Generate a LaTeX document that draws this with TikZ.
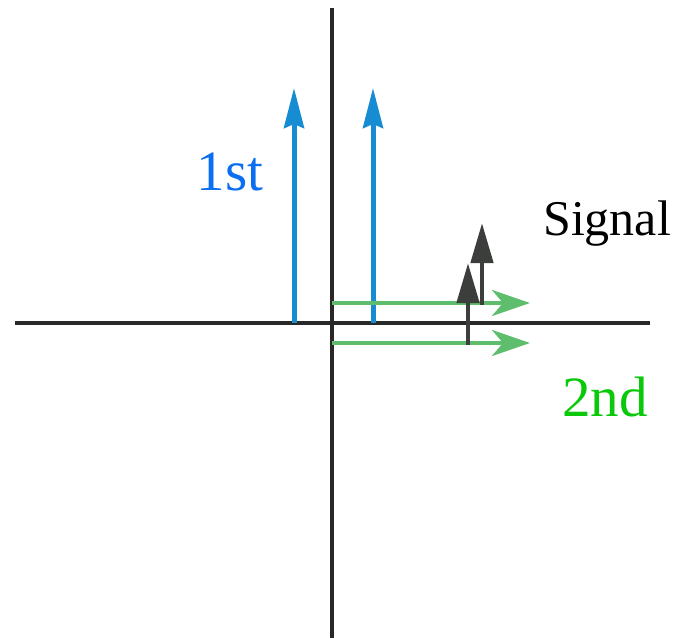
\documentclass[tikz,border=0pt]{standalone}
\usepackage{fontspec}
\setmainfont{Liberation Serif}
\usetikzlibrary{arrows.meta}
\definecolor{axisgray}{RGB}{40,40,40}
\definecolor{firstblue}{RGB}{22,140,210}
\definecolor{firsttext}{RGB}{12,110,240}
\definecolor{secondgreen}{RGB}{95,190,110}
\definecolor{secondtext}{RGB}{10,200,10}
\definecolor{signalgray}{RGB}{60,62,60}
\tikzset{x=1pt, y=-1pt,
    axis/.style={draw=axisgray, line width=3.4pt},
    firstarrow/.style={draw=firstblue, line width=5pt,
        -{Stealth[length=40pt,width=20pt,inset=4pt]}},
    secondarrow/.style={draw=secondgreen, line width=4.6pt,
        -{Stealth[length=38pt,width=26pt,inset=11pt]}},
    signalarrow/.style={draw=signalgray, line width=4.6pt,
        -{Triangle[length=40pt,width=22pt]}},
    lbl/.style={inner sep=0pt, anchor=base}}

\begin{document}
\begin{tikzpicture}
    \useasboundingbox (0,0) rectangle (688,638);
    % axes
    \coordinate (xl) at (15,323);
    \coordinate (xr) at (650,323);
    \coordinate (yt) at (332,8);
    \coordinate (yb) at (332,638);
    \draw[axis] (xl) -- (xr);
    \draw[axis] (yt) -- (yb);
    % first order
    \foreach \name/\x in {fa/294, fb/373} {
        \coordinate (\name0) at (\x,323);
        \coordinate (\name1) at (\x,88);
        \draw[firstarrow] (\name0) -- (\name1);
    }
    % second order
    \foreach \name/\y in {sa/303, sb/343} {
        \coordinate (\name0) at (332,\y);
        \coordinate (\name1) at (530,\y);
        \draw[secondarrow] (\name0) -- (\name1);
    }
    % signal
    \coordinate (ga0) at (468,345);
    \coordinate (ga1) at (468,263);
    \coordinate (gb0) at (482,305);
    \coordinate (gb1) at (482,223);
    \draw[signalarrow] (ga0) -- (ga1);
    \draw[signalarrow] (gb0) -- (gb1);
    % labels
    \node[lbl, text=firsttext, font=\rmfamily\fontsize{57}{60}\selectfont] (first) at (230,190) {1st};
    \node[lbl, text=secondtext, font=\rmfamily\fontsize{57}{60}\selectfont] (second) at (605,416) {2nd};
    \node[lbl, anchor=base west, font=\rmfamily\fontsize{50}{54}\selectfont] (signal) at (543,235) {Signal};
\end{tikzpicture}
\end{document}
